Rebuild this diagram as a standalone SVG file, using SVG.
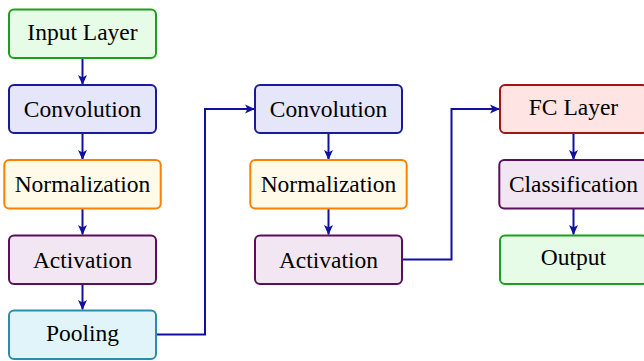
<svg xmlns="http://www.w3.org/2000/svg" width="644" height="361" viewBox="0 0 644 361">
<style>
  .box{stroke-width:2}
  .lbl{font-size:23.5px;fill:#000;text-anchor:middle}
  .green{fill:#e6fce6;stroke:#1e9e1e}
  .blue{fill:#e6e6fb;stroke:#1a1a9a}
  .orange{fill:#fffbe8;stroke:#ff8000}
  .purple{fill:#f1e6f1;stroke:#5a0f5a}
  .cyan{fill:#e1f4fa;stroke:#2e8cab}
  .red{fill:#ffe4e4;stroke:#a31515}
  .conn{fill:none;stroke:#1010a0;stroke-width:2;marker-end:url(#arr)}
</style>
<defs>
  <marker id="arr" viewBox="0 0 10 10" refX="9.5" refY="5" markerWidth="10" markerHeight="10" markerUnits="userSpaceOnUse" orient="auto">
    <path d="M0,0.5 L10,5 L0,9.5 L2.5,5 Z" fill="#1010a0"/>
  </marker>
</defs>
<g id="connectors">
  <path class="conn" d="M82.5,58 V84.5"/>
  <path class="conn" d="M82.5,133 V159.5"/>
  <path class="conn" d="M82.5,208.5 V234.5"/>
  <path class="conn" d="M82.5,284.5 V309.5"/>
  <path class="conn" d="M156,334.5 H205 V109 H254.5"/>
  <path class="conn" d="M328.5,133 V159.5"/>
  <path class="conn" d="M328.5,208.5 V234.5"/>
  <path class="conn" d="M402,259.5 H451.5 V109 H499.5"/>
  <path class="conn" d="M573.5,133 V159.5"/>
  <path class="conn" d="M573.5,208.5 V234.5"/>
</g>
<g font-family="'Liberation Serif', 'Times New Roman', Times, 'DejaVu Serif', serif">
<g id="input">
  <rect class="box green" x="9" y="9.5" width="147" height="48.5" rx="5"/>
  <text class="lbl" x="82.5" y="39.5">Input Layer</text>
</g>
<g id="conv1">
  <rect class="box blue" x="9" y="85" width="147" height="48" rx="5"/>
  <text class="lbl" x="82.5" y="117">Convolution</text>
</g>
<g id="norm1">
  <rect class="box orange" x="4.3" y="160" width="156.4" height="48.5" rx="5"/>
  <text class="lbl" x="82.5" y="192.3">Normalization</text>
</g>
<g id="act1">
  <rect class="box purple" x="9" y="235.5" width="147" height="48.5" rx="5"/>
  <text class="lbl" x="82.5" y="268">Activation</text>
</g>
<g id="pool">
  <rect class="box cyan" x="9" y="310.5" width="147" height="48.5" rx="5"/>
  <text class="lbl" x="82.5" y="340.5">Pooling</text>
</g>
<g id="conv2">
  <rect class="box blue" x="255" y="85" width="147" height="48" rx="5"/>
  <text class="lbl" x="328.5" y="117">Convolution</text>
</g>
<g id="norm2">
  <rect class="box orange" x="250.3" y="160" width="156.4" height="48.5" rx="5"/>
  <text class="lbl" x="328.5" y="192.3">Normalization</text>
</g>
<g id="act2">
  <rect class="box purple" x="255" y="235.5" width="147" height="48.5" rx="5"/>
  <text class="lbl" x="328.5" y="268">Activation</text>
</g>
<g id="fc">
  <rect class="box red" x="500" y="85" width="147" height="48" rx="5"/>
  <text class="lbl" x="573.5" y="114.5">FC Layer</text>
</g>
<g id="cls">
  <rect class="box purple" x="499.3" y="160" width="150" height="48.5" rx="5"/>
  <text class="lbl" x="573.5" y="192.3">Classification</text>
</g>
<g id="output">
  <rect class="box green" x="500" y="235.5" width="147" height="48.5" rx="5"/>
  <text class="lbl" x="573.5" y="265">Output</text>
</g>
</g>
</svg>
